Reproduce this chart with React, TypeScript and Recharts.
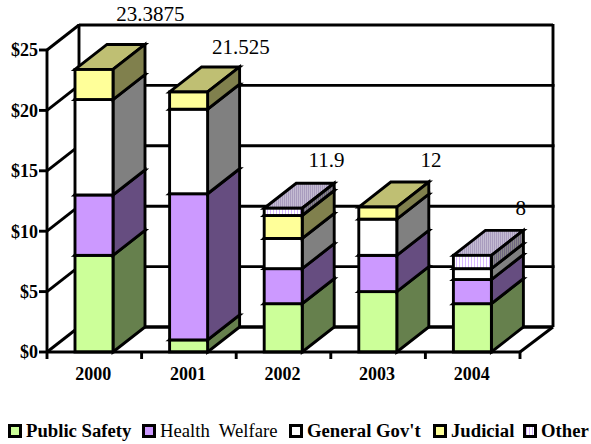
import React from "react";
import { ComposedChart, Bar, Line, XAxis, YAxis, CartesianGrid, Legend } from "recharts";

const years = ["2000", "2001", "2002", "2003", "2004"];
const publicSafety = [8, 1, 4, 5, 4];
const healthWelfare = [5, 12.1, 2.9, 3, 2];
const generalGov = [7.9, 7, 2.5, 3, 0.9];
const judicial = [2.4875, 1.425, 1.9, 1, 0];
const other = [0, 0, 0.6, 0, 1.1];
const totals = [23.3875, 21.525, 11.9, 12, 8];
const yTicks = [0, 5, 10, 15, 20, 25];

const data = years.map((year, i) => ({
  year,
  publicSafety: publicSafety[i],
  healthWelfare: healthWelfare[i],
  generalGov: generalGov[i],
  judicial: judicial[i],
  other: other[i],
  total: totals[i],
}));

const SERIF = "'Liberation Serif', 'Times New Roman', serif";
const DX = 32;
const DY = 25;
const SW = 2.9;
const LABEL_NUDGE = [
  [56, -55],
  [52, -45],
  [43, -48],
  [53, -47],
  [48, -47],
];
const LEGEND_LEFT: Record<string, number> = {
  "Public Safety": 8,
  "Health  Welfare": 142,
  "General Gov't": 289,
  Judicial: 433,
  Other: 523,
};

function Box(p: any, front: string, side: string, top: string) {
  const { x, y, width, height } = p;
  if (!(height > 0.01)) return null;
  const r = x + width;
  const b = y + height;
  const common = { stroke: "#000", strokeWidth: SW, strokeLinejoin: "miter" as const };
  return (
    <g>
      <polygon points={`${x},${y} ${x + DX},${y - DY} ${r + DX},${y - DY} ${r},${y}`} fill={top} {...common} />
      <polygon points={`${r},${y} ${r + DX},${y - DY} ${r + DX},${b - DY} ${r},${b}`} fill={side} {...common} />
      <rect x={x} y={y} width={width} height={height} fill={front} {...common} />
    </g>
  );
}

function Wall(p: any) {
  const { x1, x2, y1, y, height, index } = p;
  const isTop = Math.abs(y1 - y) < 0.5;
  const isFloor = Math.abs(y1 - (y + height)) < 0.5;
  const backL = x1 + DX;
  const backR = x2 + DX + 1;
  const line = { stroke: "#000", strokeWidth: SW };
  return (
    <g key={`wall-${index}`}>
      {index === 0 ? (
        <defs>
          <pattern id="otherFront" width="3" height="3" patternUnits="userSpaceOnUse">
            <rect width="3" height="3" fill="#FFFFFF" />
            <rect width="1" height="3" fill="#D9B8FF" />
          </pattern>
          <pattern id="otherTop" width="2" height="2" patternUnits="userSpaceOnUse">
            <rect width="2" height="2" fill="#C4BCD2" />
            <rect width="1" height="2" fill="#A99CBE" />
          </pattern>
          <pattern id="otherSide" width="2" height="2" patternUnits="userSpaceOnUse">
            <rect width="2" height="2" fill="#8A8A8A" />
            <rect width="1" height="2" fill="#6F6580" />
          </pattern>
        </defs>
      ) : null}
      <line x1={x1} y1={y1} x2={backL} y2={y1 - DY} {...line} />
      <line x1={backL} y1={y1 - DY} x2={backR + (isTop || isFloor ? 0 : 1.5)} y2={y1 - DY} stroke="#000" strokeWidth={isFloor ? 3.4 : SW} />
      {isTop ? (
        <>
          <line x1={backL} y1={y1 - DY - 1} x2={backL} y2={y + height - DY} {...line} />
          <line x1={backR} y1={y1 - DY - 1} x2={backR} y2={y + height - DY} {...line} />
        </>
      ) : null}
      {isFloor ? <line x1={x2} y1={y1} x2={backR} y2={y1 - DY} {...line} /> : null}
    </g>
  );
}

function XTick(p: any) {
  const { x, y, payload, index, visibleTicksCount } = p;
  const band = 94.6;
  const line = { stroke: "#000", strokeWidth: SW };
  return (
    <g>
      <line x1={x - band / 2} y1={y} x2={x - band / 2} y2={y + 7} {...line} />
      {index === (visibleTicksCount ?? 5) - 1 ? <line x1={x + band / 2} y1={y} x2={x + band / 2} y2={y + 7} {...line} /> : null}
      <text x={x - 1} y={y + 28} textAnchor="middle" fontFamily={SERIF} fontSize={18} fontWeight="bold" fill="#000">
        {payload.value}
      </text>
    </g>
  );
}

function TotalLabel(p: any) {
  const { x, y, value, index } = p;
  const [dx, dy] = LABEL_NUDGE[index];
  return (
    <text x={x + dx} y={y + dy} textAnchor="middle" dominantBaseline="central" fontFamily={SERIF} fontSize={21} fill="#000">
      {value}
    </text>
  );
}

function legendFill(name: string, color: string) {
  if (name === "Other") return "repeating-linear-gradient(90deg,#D9B8FF 0 1px,#fff 1px 3px)";
  return color;
}

function LegendContent(p: any) {
  const items = (p.payload ?? []).filter((e: any) => e.value in LEGEND_LEFT);
  return (
    <div style={{ position: "relative", height: 0, width: 591 }}>
      {items.map((e: any) => (
        <div
          key={e.value}
          style={{
            position: "absolute",
            left: LEGEND_LEFT[e.value],
            top: 0,
            display: "flex",
            alignItems: "center",
            height: 16,
            whiteSpace: "pre",
            fontFamily: SERIF,
            fontSize: 18.7,
            lineHeight: "16px",
            color: "#000",
            fontWeight: e.value === "Health  Welfare" ? "normal" : "bold",
          }}
        >
          <span
            style={{
              display: "inline-block",
              boxSizing: "border-box",
              width: 14,
              height: 14,
              border: "3px solid #000",
              background: legendFill(e.value, e.color),
              marginRight: 4,
            }}
          />
          {e.value}
        </div>
      ))}
    </div>
  );
}

export default function App() {
  return (
    <div style={{ position: "absolute", left: 0, top: 0, width: 591, height: 444, background: "#fff" }}>
      <ComposedChart width={591} height={444} data={data} margin={{ top: 50, right: 71, bottom: 0, left: 0 }} barSize={38}>
        <CartesianGrid vertical={false} horizontal={Wall as any} />
        <XAxis
          dataKey="year"
          height={92}
          interval={0}
          tickSize={0}
          tickMargin={0}
          tickLine={false}
          axisLine={{ stroke: "#000", strokeWidth: SW }}
          tick={XTick as any}
        />
        <YAxis
          width={47}
          domain={[0, 25]}
          ticks={yTicks}
          tickSize={8}
          tickMargin={1}
          axisLine={{ stroke: "#000", strokeWidth: SW }}
          tickLine={{ stroke: "#000", strokeWidth: SW }}
          tick={{ fill: "#000", fontSize: 18, fontWeight: "bold", fontFamily: SERIF }}
          tickFormatter={(v: number) => `$${v}`}
        />
        <Legend
          verticalAlign="bottom"
          content={LegendContent as any}
          wrapperStyle={{ position: "absolute", left: 0, top: 423, bottom: "auto", width: 591, height: 0 }}
        />
        <Bar dataKey="publicSafety" name="Public Safety" stackId="a" fill="#CCFF99" isAnimationActive={false}
          shape={(p: any) => Box(p, "#CCFF99", "#66804D", "#99BF73")} />
        <Bar dataKey="healthWelfare" name="Health  Welfare" stackId="a" fill="#CC99FF" isAnimationActive={false}
          shape={(p: any) => Box(p, "#CC99FF", "#664D80", "#9973BF")} />
        <Bar dataKey="generalGov" name="General Gov't" stackId="a" fill="#FFFFFF" isAnimationActive={false}
          shape={(p: any) => Box(p, "#FFFFFF", "#808080", "#BFBFBF")} />
        <Bar dataKey="judicial" name="Judicial" stackId="a" fill="#FFFF99" isAnimationActive={false}
          shape={(p: any) => Box(p, "#FFFF99", "#80804D", "#BFBF73")} />
        <Bar dataKey="other" name="Other" stackId="a" fill="#E6D0FF" isAnimationActive={false}
          shape={(p: any) => Box(p, "url(#otherFront)", "url(#otherSide)", "url(#otherTop)")} />
        <Line dataKey="total" stroke="none" dot={false} activeDot={false} legendType="none" isAnimationActive={false} label={TotalLabel as any} />
      </ComposedChart>
    </div>
  );
}
